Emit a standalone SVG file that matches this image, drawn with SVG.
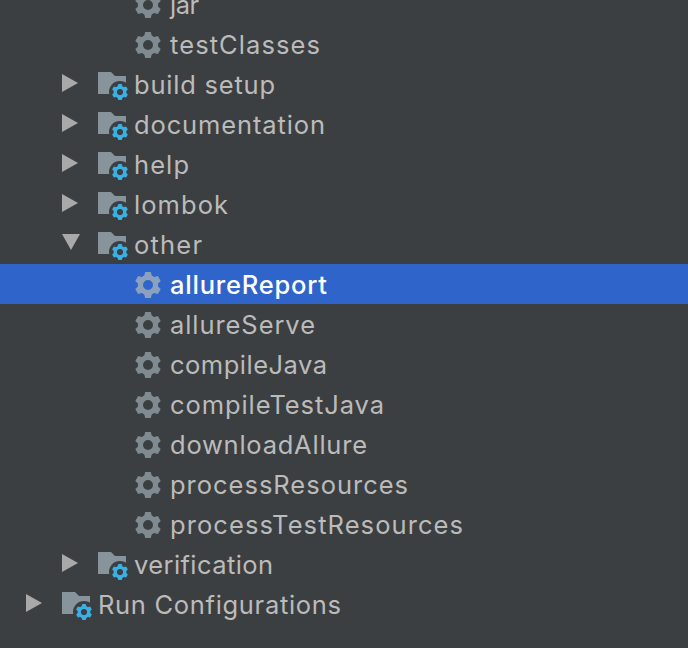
<svg xmlns="http://www.w3.org/2000/svg" xmlns:xlink="http://www.w3.org/1999/xlink" width="688" height="648" viewBox="0 0 688 648">
<style>
text{font-family:"Inter","Liberation Sans",sans-serif;font-size:25.5px;fill:#bbbbbb}
.sel{fill:#ffffff;font-weight:500}
.tri{fill:#a9a9a9}
.g{color:#7f8b91}
.gs{color:#8ca1bd}
</style>
<defs>
<g id="gear">
<circle r="7.6" fill="none" stroke="currentColor" stroke-width="5.2"/>
<path id="t" fill="currentColor" d="M-4-8.5L-2.8-13H2.8L4-8.5Z"/>
<use xlink:href="#t" href="#t" transform="rotate(60)"/>
<use xlink:href="#t" href="#t" transform="rotate(120)"/>
<use xlink:href="#t" href="#t" transform="rotate(180)"/>
<use xlink:href="#t" href="#t" transform="rotate(240)"/>
<use xlink:href="#t" href="#t" transform="rotate(300)"/>
</g>
<g id="folder">
<path fill="#87949c" d="M0-13H13L17-9H28V9H0Z"/>
<circle cx="22" cy="7" r="11" fill="#3c3f41"/>
<use xlink:href="#gear" href="#gear" transform="translate(22 7) scale(.62)" style="color:#3bb0e4"/>
</g>
<path id="right" class="tri" d="M0-11L16-2L0 7Z"/>
</defs>
<rect width="688" height="648" fill="#3c3f41"/>
<rect x="0" y="264" width="688" height="40" fill="#2f65ca"/>
<g id="jar"><use href="#gear" class="g" x="148" y="5"/><text x="170" y="14" textLength="29">jar</text></g>
<g id="testClasses"><use href="#gear" class="g" x="148" y="45"/><text x="170" y="54" textLength="150">testClasses</text></g>
<g id="build-setup"><use href="#right" x="62" y="85"/><use href="#folder" x="98" y="85"/><text x="134" y="94" textLength="141">build setup</text></g>
<g id="documentation"><use href="#right" x="62" y="125"/><use href="#folder" x="98" y="125"/><text x="134" y="134" textLength="191">documentation</text></g>
<g id="help"><use href="#right" x="62" y="165"/><use href="#folder" x="98" y="165"/><text x="134" y="174" textLength="55">help</text></g>
<g id="lombok"><use href="#right" x="62" y="205"/><use href="#folder" x="98" y="205"/><text x="134" y="214" textLength="94">lombok</text></g>
<g id="other"><path class="tri" d="M62 234H80L71 250Z"/><use href="#folder" x="98" y="245"/><text x="134" y="254" textLength="68">other</text></g>
<g id="allureReport"><use href="#gear" class="gs" x="148" y="285"/><text class="sel" x="170" y="294" textLength="157">allureReport</text></g>
<g id="allureServe"><use href="#gear" class="g" x="148" y="325"/><text x="170" y="334" textLength="145">allureServe</text></g>
<g id="compileJava"><use href="#gear" class="g" x="148" y="365"/><text x="170" y="374" textLength="157">compileJava</text></g>
<g id="compileTestJava"><use href="#gear" class="g" x="148" y="405"/><text x="170" y="414" textLength="214">compileTestJava</text></g>
<g id="downloadAllure"><use href="#gear" class="g" x="148" y="445"/><text x="170" y="454" textLength="197">downloadAllure</text></g>
<g id="processResources"><use href="#gear" class="g" x="148" y="485"/><text x="170" y="494" textLength="238">processResources</text></g>
<g id="processTestResources"><use href="#gear" class="g" x="148" y="525"/><text x="170" y="534" textLength="293">processTestResources</text></g>
<g id="verification"><use href="#right" x="62" y="565"/><use href="#folder" x="98" y="565"/><text x="134" y="574" textLength="139">verification</text></g>
<g id="run-configurations"><use href="#right" x="26" y="605"/><use href="#folder" x="62" y="605"/><text x="98" y="614" textLength="243">Run Configurations</text></g>
<g id="connectors"></g>
</svg>
